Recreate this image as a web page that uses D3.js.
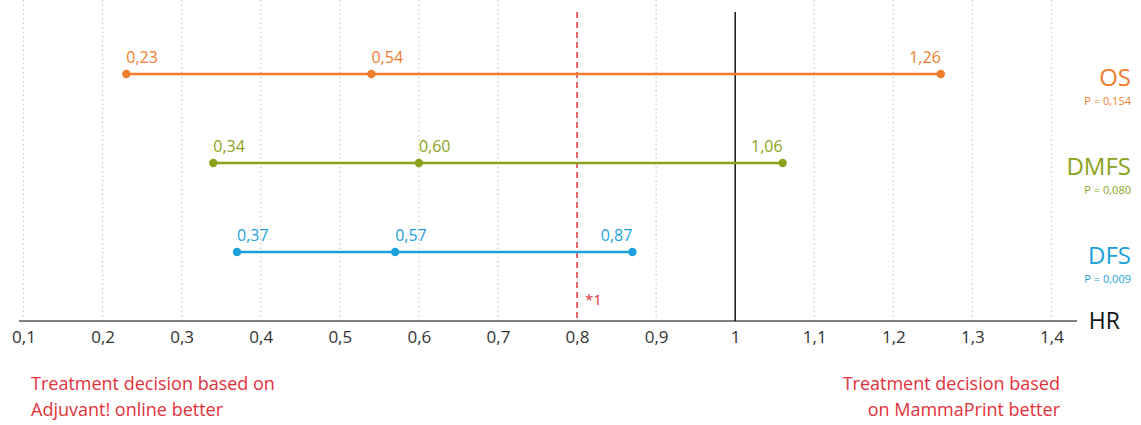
<!DOCTYPE html>
<html>
<head>
<meta charset="utf-8">
<script src="https://cdn.jsdelivr.net/npm/d3@7"></script>
<style>
  body { margin: 0; background: #fff; }
  text { font-family: "Open Sans", "Noto Sans", sans-serif; }
</style>
</head>
<body>
<div id="chart"></div>
<script>
// data
var outcomes = ["OS", "DMFS", "DFS"];
var lower = [0.23, 0.34, 0.37];
var hr = [0.54, 0.60, 0.57];
var upper = [1.26, 1.06, 0.87];
var pValues = ["P = 0,154", "P = 0,080", "P = 0,009"];
var colors = ["#ef7d2d", "#8ba31b", "#1d9fdc"];
var ticks = [0.1, 0.2, 0.3, 0.4, 0.5, 0.6, 0.7, 0.8, 0.9, 1, 1.1, 1.2, 1.3, 1.4];
var threshold = 0.8;

var svgWidth = 1141;
var svgHeight = 425;
var axisY = 321;
var red = "#e2313b";

var svg = d3.select("#chart")
  .append("svg")
  .attr("width", svgWidth)
  .attr("height", svgHeight);

var x = d3.scaleLinear()
  .domain([0.1, 1.4])
  .range([23.5, 1051.5]);

var y = d3.scalePoint()
  .domain(outcomes)
  .range([74, 252]);

var fmt = d => d3.format(".2f")(d).replace(".", ",");

// grid lines
svg.append("g")
  .selectAll("line")
  .data(ticks.filter(d => d !== 1 && d !== threshold))
  .enter()
  .append("line")
  .attr("x1", d => x(d))
  .attr("x2", d => x(d))
  .attr("y1", 0)
  .attr("y2", axisY)
  .attr("stroke", "#c8c8c8")
  .attr("stroke-width", 1.2)
  .attr("stroke-dasharray", "1.5,3");

// axis
var bottomAxis = d3.axisBottom(x)
  .tickValues(ticks)
  .tickSize(0)
  .tickPadding(13)
  .tickFormat(d => String(d).replace(".", ","));

var axisG = svg.append("g")
  .attr("transform", `translate(0, ${axisY})`)
  .call(bottomAxis);
axisG.select(".domain").remove();
axisG.selectAll("text")
  .attr("font-size", 17)
  .attr("fill", "#333")
  .attr("dy", "0.55em")
  .style("font-family", "'Open Sans', sans-serif");

svg.append("line")
  .attr("x1", 19)
  .attr("x2", 1077)
  .attr("y1", axisY)
  .attr("y2", axisY)
  .attr("stroke", "#555")
  .attr("stroke-width", 1.5);

// reference lines
svg.append("line")
  .attr("x1", x(1)).attr("x2", x(1))
  .attr("y1", 12).attr("y2", axisY)
  .attr("stroke", "#111")
  .attr("stroke-width", 1.5);

svg.append("line")
  .attr("x1", x(threshold)).attr("x2", x(threshold))
  .attr("y1", 12).attr("y2", axisY)
  .attr("stroke", red)
  .attr("stroke-width", 1.5)
  .attr("stroke-dasharray", "6,4");

svg.append("text")
  .attr("x", x(threshold) + 8)
  .attr("y", 305)
  .attr("fill", red)
  .attr("font-size", 15)
  .text("*1");

svg.append("text")
  .attr("x", 1120)
  .attr("y", 329)
  .attr("text-anchor", "end")
  .attr("font-size", 23)
  .attr("fill", "#111")
  .text("HR");

// rows
outcomes.forEach(function(name, i) {
  var g = svg.append("g").attr("fill", colors[i]);
  var cy = y(name);
  g.append("line")
    .attr("x1", x(lower[i]))
    .attr("x2", x(upper[i]))
    .attr("y1", cy)
    .attr("y2", cy)
    .attr("stroke", colors[i])
    .attr("stroke-width", 2.5);

  var pts = [lower[i], hr[i], upper[i]];
  g.selectAll("circle")
    .data(pts)
    .enter()
    .append("circle")
    .attr("cx", d => x(d))
    .attr("cy", cy)
    .attr("r", 4.2);

  g.selectAll("text.val")
    .data(pts)
    .enter()
    .append("text")
    .attr("class", "val")
    .attr("x", d => x(d))
    .attr("y", cy - 11)
    .attr("text-anchor", (d, j) => j === 2 ? "end" : "start")
    .attr("font-size", 16)
    .text(d => fmt(d));

  g.append("text")
    .attr("x", 1131)
    .attr("y", cy + 12)
    .attr("text-anchor", "end")
    .attr("font-size", 24)
    .text(name);

  g.append("text")
    .attr("x", 1131)
    .attr("y", cy + 31)
    .attr("text-anchor", "end")
    .attr("font-size", 11)
    .text(pValues[i]);
});

// bottom notes
var leftNote = svg.append("text")
  .attr("x", 31)
  .attr("y", 390)
  .attr("fill", red)
  .attr("font-size", 18);
leftNote.append("tspan").attr("x", 31).text("Treatment decision based on");
leftNote.append("tspan").attr("x", 31).attr("dy", 26).text("Adjuvant! online better");

var rightNote = svg.append("text")
  .attr("x", 1060)
  .attr("y", 390)
  .attr("text-anchor", "end")
  .attr("fill", red)
  .attr("font-size", 18);
rightNote.append("tspan").attr("x", 1060).text("Treatment decision based");
rightNote.append("tspan").attr("x", 1060).attr("dy", 26).text("on MammaPrint better");
</script>
</body>
</html>
